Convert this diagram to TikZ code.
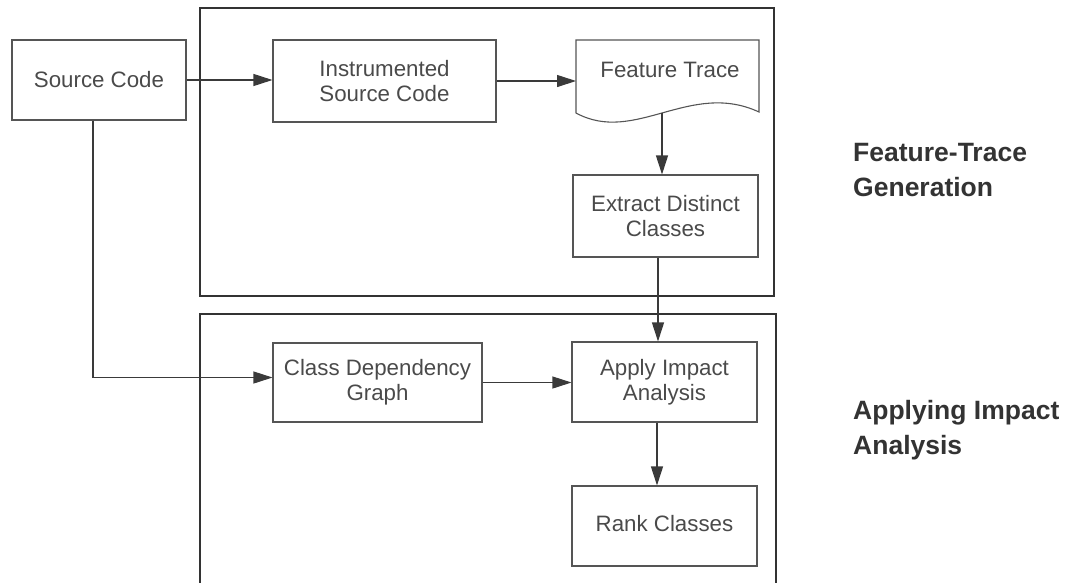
\documentclass[tikz,border=0pt]{standalone}
\usepackage{fontspec}
\setmainfont{Liberation Sans}
\usetikzlibrary{arrows.meta}
\definecolor{boxgray}{HTML}{555555}
\definecolor{txtgray}{HTML}{4A4A4A}
\definecolor{grpgray}{HTML}{333333}
\definecolor{lblgray}{HTML}{333333}
\definecolor{arrgray}{HTML}{3A3A3A}
\begin{document}
\begin{tikzpicture}[x=1pt,y=-1pt,
  box/.style={draw=boxgray, line width=1.1pt, text=txtgray, font=\fontsize{22.3}{25}\selectfont, align=center, inner sep=0pt},
  boxline/.style={draw=boxgray, line width=1.1pt},
  group/.style={draw=grpgray, line width=2pt},
  arr/.style={draw=arrgray, line width=1.1pt, -{Triangle[length=19pt,width=12pt]}},
  lbl/.style={text=lblgray, font=\fontsize{26.5}{35}\selectfont\bfseries, align=left, anchor=north west, inner sep=0pt}]
\useasboundingbox (0,0) rectangle (1079,582);
% groups
\draw[group] (200,8) rectangle (774,296);
\draw[group] (200,584) -- (200,314) -- (776,314) -- (776,584);
% boxes
\node[box, minimum width=174pt, minimum height=80pt] (src) at (99,80) {Source Code};
\node[box, minimum width=223pt, minimum height=82pt] (ins) at (384.5,81) {Instrumented\\Source Code};
\draw[boxline] (576,113) -- (576,40) -- (759,40) -- (759,112) .. controls (690,80) and (635,145) .. (576,113) -- cycle;
\node[box, draw=none] (ft) at (670,70) {Feature Trace};
\coordinate (ftin) at (576,81);
\coordinate (ftout) at (662,112.5);
\node[box, minimum width=185pt, minimum height=82pt] (ext) at (665.5,216) {Extract Distinct\\Classes};
\node[box, minimum width=209pt, minimum height=79pt] (cdg) at (377.5,382.5) {Class Dependency\\Graph};
\node[box, minimum width=185pt, minimum height=80pt] (app) at (664.5,382) {Apply Impact\\Analysis};
\node[box, minimum width=185pt, minimum height=80pt] (rank) at (664.5,526) {\raisebox{6pt}{Rank Classes}};
% arrows
\draw[arr] (src.east) -- (src.east -| ins.west);
\draw[arr] (ins.east) -- (ftin);
\draw[arr] (ftout) -- (ftout |- ext.north);
\draw[arr] ([xshift=-7.5pt]ext.south) -- ([xshift=-7.5pt]ext.south |- app.north);
\draw[arr] ([xshift=-6pt]src.south) |- ([yshift=5pt]cdg.west);
\draw[arr] (cdg.east) -- (cdg.east -| app.west);
\draw[arr] ([xshift=-7.5pt]app.south) -- ([xshift=-7.5pt]app.south |- rank.north);
% labels
\node[lbl] (lab1) at (853,143) {Feature-Trace\\Generation};
\node[lbl] (lab2) at (853,400) {Applying Impact\\Analysis};
\end{tikzpicture}
\end{document}
